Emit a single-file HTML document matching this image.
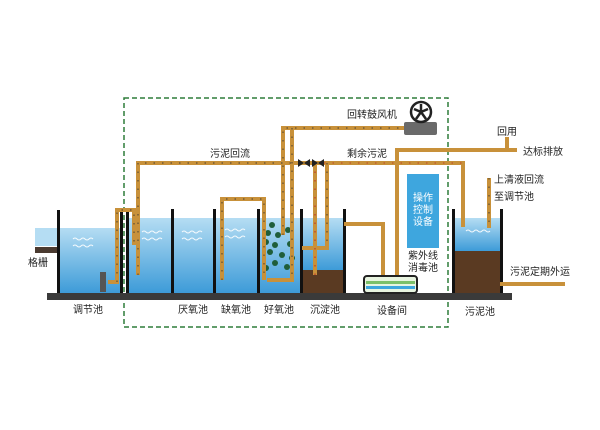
<!DOCTYPE html>
<html><head><meta charset="utf-8"><style>
html,body{margin:0;padding:0;background:#fff;width:600px;height:430px;overflow:hidden}
svg text{font-family:"Liberation Sans","Noto Sans CJK SC",sans-serif;font-size:10px;fill:#222}
</style></head><body>
<svg width="600" height="430" viewBox="0 0 600 430" xmlns="http://www.w3.org/2000/svg">
<defs>
<linearGradient id="w" x1="0" y1="0" x2="0" y2="1">
<stop offset="0" stop-color="#b5ddf3"/><stop offset="1" stop-color="#3d9bd8"/></linearGradient>
</defs>
<rect x="124" y="98" width="324" height="229" fill="none" stroke="#2e7d3a" stroke-width="1.5" stroke-dasharray="5,3"/>
<rect x="35" y="228" width="23" height="18" fill="#b5ddf3"/>
<rect x="35" y="247" width="23" height="6" fill="#4a3a30"/>
<rect x="58" y="228" width="63" height="65" fill="url(#w)"/>
<rect x="127" y="218" width="174" height="75" fill="url(#w)"/>
<rect x="301" y="218" width="43" height="52" fill="url(#w)"/>
<rect x="301" y="270" width="43" height="23" fill="#5a3a22"/>
<rect x="453" y="218" width="48" height="33" fill="url(#w)"/>
<rect x="453" y="251" width="48" height="42" fill="#5a3a22"/>
<!-- waves -->
<g fill="none" stroke="#fff" stroke-width="1" opacity="0.9">
<path d="M73 239 q2 -2 4 0 t4 0 t4 0 t4 0 t4 0 M73 246 q2 -2 4 0 t4 0 t4 0 t4 0 t4 0"/>
<path d="M142 232 q2 -2 4 0 t4 0 t4 0 t4 0 t4 0 M142 239 q2 -2 4 0 t4 0 t4 0 t4 0 t4 0"/>
<path d="M182 232 q2 -2 4 0 t4 0 t4 0 t4 0 t4 0 M182 239 q2 -2 4 0 t4 0 t4 0 t4 0 t4 0"/>
<path d="M225 230 q2 -2 4 0 t4 0 t4 0 t4 0 t4 0 M225 237 q2 -2 4 0 t4 0 t4 0 t4 0 t4 0"/>
<path d="M466 231 q2 -2 4 0 t4 0 t4 0 t4 0 t4 0 t4 0"/>
</g>
<rect x="47" y="293" width="465" height="7" fill="#3a3a3a"/>
<g fill="#111">
<rect x="57" y="210" width="3" height="83"/>
<rect x="120" y="209" width="3" height="84"/>
<rect x="126" y="209" width="3" height="84"/>
<rect x="171" y="209" width="3" height="84"/>
<rect x="213" y="209" width="3" height="84"/>
<rect x="257" y="209" width="3" height="84"/>
<rect x="300" y="209" width="3" height="84"/>
<rect x="343" y="209" width="3" height="84"/>
<rect x="452" y="209" width="3" height="84"/>
<rect x="500" y="209" width="3" height="84"/>
</g>
<rect x="100" y="272" width="6" height="20" fill="#555"/>
<g fill="#1f5e3a">
<circle cx="272" cy="225" r="3"/><circle cx="268" cy="233" r="3"/><circle cx="278" cy="235" r="3"/><circle cx="266" cy="242" r="3"/><circle cx="275" cy="245" r="3"/><circle cx="288" cy="230" r="3"/><circle cx="290" cy="244" r="3"/><circle cx="270" cy="252" r="3"/><circle cx="282" cy="255" r="3"/><circle cx="292" cy="258" r="3"/><circle cx="275" cy="263" r="3"/><circle cx="287" cy="267" r="3"/><circle cx="266" cy="268" r="3"/>
</g>
<g id="p" fill="none" stroke="#c8913a" stroke-width="4">
<path d="M108 282 H117 V210 H134 V245"/>
<path d="M138 275 V163 H463 V227"/>
<path d="M222 280 V199 H264 V280"/>
<path d="M283 175 V128 H404"/>
<path d="M292 128 V280 H267"/>
<path d="M283 175 V235"/>
<path d="M327 163 V248 H302"/>
<path d="M315 163 V275"/>
<path d="M344 224 H383 V276"/>
<path d="M397 276 V150 H517"/>
<path d="M507 137 V150"/>
<path d="M489 178 V228"/>
<path d="M500 284 H565"/>
</g>
<g fill="none" stroke="#333" stroke-width="1.2" stroke-dasharray="1.5,7" opacity="0.7">
<path d="M117 282 V210 H134 V245"/>
<path d="M138 275 V163 H300"/>
<path d="M222 280 V199 H264 V280"/>
<path d="M283 235 V128 H404"/>
<path d="M292 128 V280"/>
<path d="M327 163 V248"/>
<path d="M489 178 V228"/>
</g>
<path d="M315 163 V275" stroke="#c0392b" stroke-width="1.2" stroke-dasharray="1.5,7" fill="none"/>
<path d="M324 163 H463" stroke="#c0392b" stroke-width="1.2" stroke-dasharray="1.5,7" fill="none" opacity="0.7"/>
<g fill="#222"><path d="M298 159 L304 163 L298 167Z M310 159 L304 163 L310 167Z"/><path d="M312 159 L318 163 L312 167Z M324 159 L318 163 L324 167Z"/></g>
<rect x="404" y="122" width="33" height="13" fill="#6a6a6a" rx="2"/>
<circle cx="421" cy="112" r="10" fill="#fff" stroke="#222" stroke-width="2.5"/>
<path d="M421 112 L421 104 M421 112 L428 109 M421 112 L426 119 M421 112 L416 119 M421 112 L414 109" stroke="#222" stroke-width="2.5"/>
<rect x="407" y="174" width="32" height="74" fill="#3ea6de"/>
<text x="423" y="201" text-anchor="middle" style="fill:#fff">操作</text>
<text x="423" y="213" text-anchor="middle" style="fill:#fff">控制</text>
<text x="423" y="225" text-anchor="middle" style="fill:#fff">设备</text>
<rect x="364" y="276" width="53" height="17" rx="3" fill="#e8f4e0" stroke="#222" stroke-width="2"/>
<rect x="366" y="281" width="49" height="3" fill="#7cc06a"/>
<rect x="366" y="286" width="49" height="3" fill="#3ea6de"/>
<text x="28" y="266">格栅</text>
<text x="73" y="313">调节池</text>
<text x="178" y="313">厌氧池</text>
<text x="221" y="313">缺氧池</text>
<text x="264" y="313">好氧池</text>
<text x="310" y="313">沉淀池</text>
<text x="377" y="314">设备间</text>
<text x="465" y="315">污泥池</text>
<text x="210" y="157">污泥回流</text>
<text x="347" y="157">剩余污泥</text>
<text x="347" y="118">回转鼓风机</text>
<text x="497" y="135">回用</text>
<text x="523" y="155">达标排放</text>
<text x="494" y="183">上清液回流</text>
<text x="494" y="200">至调节池</text>
<text x="408" y="259">紫外线</text>
<text x="408" y="271">消毒池</text>
<text x="510" y="275">污泥定期外运</text>
</svg>
</body></html>
